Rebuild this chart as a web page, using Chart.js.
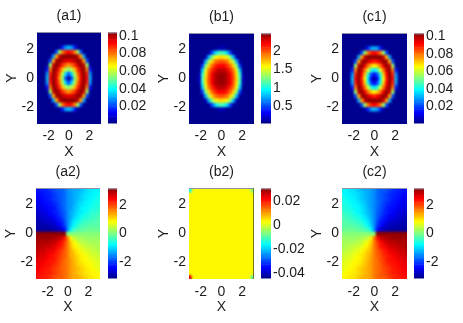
<!DOCTYPE html>
<html><head><meta charset="utf-8">
<script src="https://cdn.jsdelivr.net/npm/chart.js@4"></script>
<style>html,body{margin:0;padding:0;background:#fff;width:463px;height:323px;overflow:hidden}
canvas{position:absolute}</style></head><body>
<script>
const gridX=[-3,-2.7,-2.4,-2.1,-1.8,-1.5,-1.2,-0.9,-0.6,-0.3,0,0.3,0.6,0.9,1.2,1.5,1.8,2.1,2.4,2.7,3];
const gridY=[3,2.7,2.4,2.1,1.8,1.5,1.2,0.9,0.6,0.3,0,-0.3,-0.6,-0.9,-1.2,-1.5,-1.8,-2.1,-2.4,-2.7,-3];
const axisTicks=[-2,0,2];
// density (a1), units of 0.001
const a1Values=[
[0,0,0,0,0,0,0,0,0,0,0,0,0,0,0,0,0,0,0,0,0],
[0,0,0,0,0,0,0,0,0,0,0,0,0,0,0,0,0,0,0,0,0],
[0,0,0,0,0,0,0,0,0,0,0,0,0,0,0,0,0,0,0,0,0],
[0,0,0,0,0,0,0,3,16,28,32,28,16,3,0,0,0,0,0,0,0],
[0,0,0,0,0,1,20,55,78,88,92,88,78,55,20,1,0,0,0,0,0],
[0,0,0,0,1,28,74,97,103,103,103,103,103,97,74,28,1,0,0,0,0],
[0,0,0,0,20,74,100,103,99,95,93,95,99,103,100,74,20,0,0,0,0],
[0,0,0,3,55,97,103,97,87,80,76,80,87,97,103,97,55,3,0,0,0],
[0,0,0,16,78,103,99,87,72,58,52,58,72,87,99,103,78,16,0,0,0],
[0,0,0,28,88,103,95,80,58,35,20,35,58,80,95,103,88,28,0,0,0],
[0,0,0,32,92,103,93,76,52,20,0,20,52,76,93,103,92,32,0,0,0],
[0,0,0,28,88,103,95,80,58,35,20,35,58,80,95,103,88,28,0,0,0],
[0,0,0,16,78,103,99,87,72,58,52,58,72,87,99,103,78,16,0,0,0],
[0,0,0,3,55,97,103,97,87,80,76,80,87,97,103,97,55,3,0,0,0],
[0,0,0,0,20,74,100,103,99,95,93,95,99,103,100,74,20,0,0,0,0],
[0,0,0,0,1,28,74,97,103,103,103,103,103,97,74,28,1,0,0,0,0],
[0,0,0,0,0,1,20,55,78,88,92,88,78,55,20,1,0,0,0,0,0],
[0,0,0,0,0,0,0,3,16,28,32,28,16,3,0,0,0,0,0,0,0],
[0,0,0,0,0,0,0,0,0,0,0,0,0,0,0,0,0,0,0,0,0],
[0,0,0,0,0,0,0,0,0,0,0,0,0,0,0,0,0,0,0,0,0],
[0,0,0,0,0,0,0,0,0,0,0,0,0,0,0,0,0,0,0,0,0]];
// density (c1), units of 0.001
const c1Values=[
[0,0,0,0,0,0,0,0,0,0,0,0,0,0,0,0,0,0,0,0,0],
[0,0,0,0,0,0,0,0,0,0,0,0,0,0,0,0,0,0,0,0,0],
[0,0,0,0,0,0,0,0,0,0,0,0,0,0,0,0,0,0,0,0,0],
[0,0,0,0,0,0,0,3,16,28,32,28,16,3,0,0,0,0,0,0,0],
[0,0,0,0,0,1,20,55,78,88,92,88,78,55,20,1,0,0,0,0,0],
[0,0,0,0,1,28,74,97,103,103,103,103,103,97,74,28,1,0,0,0,0],
[0,0,0,0,20,74,100,103,97,91,88,91,97,103,100,74,20,0,0,0,0],
[0,0,0,3,55,97,103,93,80,70,66,70,80,93,103,97,55,3,0,0,0],
[0,0,0,16,78,103,97,80,62,43,36,43,62,80,97,103,78,16,0,0,0],
[0,0,0,28,88,103,91,70,43,20,12,20,43,70,91,103,88,28,0,0,0],
[0,0,0,32,92,103,88,66,36,12,0,12,36,66,88,103,92,32,0,0,0],
[0,0,0,28,88,103,91,70,43,20,12,20,43,70,91,103,88,28,0,0,0],
[0,0,0,16,78,103,97,80,62,43,36,43,62,80,97,103,78,16,0,0,0],
[0,0,0,3,55,97,103,93,80,70,66,70,80,93,103,97,55,3,0,0,0],
[0,0,0,0,20,74,100,103,97,91,88,91,97,103,100,74,20,0,0,0,0],
[0,0,0,0,1,28,74,97,103,103,103,103,103,97,74,28,1,0,0,0,0],
[0,0,0,0,0,1,20,55,78,88,92,88,78,55,20,1,0,0,0,0,0],
[0,0,0,0,0,0,0,3,16,28,32,28,16,3,0,0,0,0,0,0,0],
[0,0,0,0,0,0,0,0,0,0,0,0,0,0,0,0,0,0,0,0,0],
[0,0,0,0,0,0,0,0,0,0,0,0,0,0,0,0,0,0,0,0,0],
[0,0,0,0,0,0,0,0,0,0,0,0,0,0,0,0,0,0,0,0,0]];
// density (b1), units of 0.01
const b1Values=[
[0,0,0,0,0,0,0,0,0,0,0,0,0,0,0,0,0,0,0,0,0],
[0,0,0,0,0,0,0,0,0,0,0,0,0,0,0,0,0,0,0,0,0],
[0,0,0,0,0,0,0,0,0,0,0,0,0,0,0,0,0,0,0,0,0],
[0,0,0,0,0,0,0,1,5,14,18,14,5,1,0,0,0,0,0,0,0],
[0,0,0,0,0,0,8,45,80,103,110,103,80,45,8,0,0,0,0,0,0],
[0,0,0,0,0,14,72,122,150,160,165,160,150,122,72,14,0,0,0,0,0],
[0,0,0,0,8,72,135,165,186,196,198,196,186,165,135,72,8,0,0,0,0],
[0,0,0,1,45,122,165,192,208,217,220,217,208,192,165,122,45,1,0,0,0],
[0,0,0,5,80,150,186,208,222,232,235,232,222,208,186,150,80,5,0,0,0],
[0,0,0,14,103,160,196,217,232,241,243,241,232,217,196,160,103,14,0,0,0],
[0,0,0,18,110,165,198,220,235,243,245,243,235,220,198,165,110,18,0,0,0],
[0,0,0,14,103,160,196,217,232,241,243,241,232,217,196,160,103,14,0,0,0],
[0,0,0,5,80,150,186,208,222,232,235,232,222,208,186,150,80,5,0,0,0],
[0,0,0,1,45,122,165,192,208,217,220,217,208,192,165,122,45,1,0,0,0],
[0,0,0,0,8,72,135,165,186,196,198,196,186,165,135,72,8,0,0,0,0],
[0,0,0,0,0,14,72,122,150,160,165,160,150,122,72,14,0,0,0,0,0],
[0,0,0,0,0,0,8,45,80,103,110,103,80,45,8,0,0,0,0,0,0],
[0,0,0,0,0,0,0,1,5,14,18,14,5,1,0,0,0,0,0,0,0],
[0,0,0,0,0,0,0,0,0,0,0,0,0,0,0,0,0,0,0,0,0],
[0,0,0,0,0,0,0,0,0,0,0,0,0,0,0,0,0,0,0,0,0],
[0,0,0,0,0,0,0,0,0,0,0,0,0,0,0,0,0,0,0,0,0]];
// phase (a2), units of 0.01
const a2Values=[
[-235,-230,-224,-218,-211,-203,-195,-186,-177,-167,-157,-147,-137,-128,-119,-111,-103,-96,-90,-84,-79],
[-241,-235,-230,-223,-216,-208,-199,-189,-179,-168,-157,-146,-135,-125,-115,-106,-98,-91,-84,-79,-73],
[-247,-241,-235,-229,-221,-213,-203,-193,-181,-169,-157,-145,-133,-121,-111,-101,-93,-85,-79,-73,-67],
[-253,-248,-242,-235,-228,-219,-209,-197,-185,-171,-157,-143,-129,-117,-105,-95,-86,-79,-72,-66,-61],
[-260,-255,-250,-243,-235,-226,-216,-203,-189,-173,-157,-141,-125,-111,-98,-88,-79,-71,-64,-59,-54],
[-268,-263,-258,-252,-245,-235,-224,-211,-195,-177,-157,-137,-119,-103,-90,-79,-69,-62,-56,-51,-46],
[-276,-272,-268,-262,-255,-247,-235,-221,-203,-181,-157,-133,-111,-93,-79,-67,-59,-52,-46,-42,-38],
[-285,-282,-278,-274,-268,-260,-250,-235,-216,-189,-157,-125,-98,-79,-64,-54,-46,-40,-36,-32,-29],
[-294,-292,-290,-286,-282,-276,-268,-255,-235,-203,-157,-111,-79,-59,-46,-38,-32,-28,-24,-22,-20],
[-304,-303,-302,-300,-297,-294,-290,-282,-268,-235,-157,-79,-46,-32,-24,-20,-17,-14,-12,-11,-10],
[314,314,314,314,314,314,314,314,314,314,0,0,0,0,0,0,0,0,0,0,0],
[304,303,302,300,297,294,290,282,268,235,157,79,46,32,24,20,17,14,12,11,10],
[294,292,290,286,282,276,268,255,235,203,157,111,79,59,46,38,32,28,24,22,20],
[285,282,278,274,268,260,250,235,216,189,157,125,98,79,64,54,46,40,36,32,29],
[276,272,268,262,255,247,235,221,203,181,157,133,111,93,79,67,59,52,46,42,38],
[268,263,258,252,245,235,224,211,195,177,157,137,119,103,90,79,69,62,56,51,46],
[260,255,250,243,235,226,216,203,189,173,157,141,125,111,98,88,79,71,64,59,54],
[253,248,242,235,228,219,209,197,185,171,157,143,129,117,105,95,86,79,72,66,61],
[247,241,235,229,221,213,203,193,181,169,157,145,133,121,111,101,93,85,79,73,67],
[241,235,230,223,216,208,199,189,179,168,157,146,135,125,115,106,98,91,84,79,73],
[235,230,224,218,211,203,195,186,177,167,157,147,137,128,119,111,103,96,90,84,79]];
// phase (c2), units of 0.01
const c2Values=[
[-79,-84,-90,-96,-103,-111,-119,-128,-137,-147,-157,-167,-177,-186,-195,-203,-211,-218,-224,-230,-235],
[-73,-79,-84,-91,-98,-106,-115,-125,-135,-146,-157,-168,-179,-189,-199,-208,-216,-223,-230,-235,-241],
[-67,-73,-79,-85,-93,-101,-111,-121,-133,-145,-157,-169,-181,-193,-203,-213,-221,-229,-235,-241,-247],
[-61,-66,-72,-79,-86,-95,-105,-117,-129,-143,-157,-171,-185,-197,-209,-219,-228,-235,-242,-248,-253],
[-54,-59,-64,-71,-79,-88,-98,-111,-125,-141,-157,-173,-189,-203,-216,-226,-235,-243,-250,-255,-260],
[-46,-51,-56,-62,-69,-79,-90,-103,-119,-137,-157,-177,-195,-211,-224,-235,-245,-252,-258,-263,-268],
[-38,-42,-46,-52,-59,-67,-79,-93,-111,-133,-157,-181,-203,-221,-235,-247,-255,-262,-268,-272,-276],
[-29,-32,-36,-40,-46,-54,-64,-79,-98,-125,-157,-189,-216,-235,-250,-260,-268,-274,-278,-282,-285],
[-20,-22,-24,-28,-32,-38,-46,-59,-79,-111,-157,-203,-235,-255,-268,-276,-282,-286,-290,-292,-294],
[-10,-11,-12,-14,-17,-20,-24,-32,-46,-79,-157,-235,-268,-282,-290,-294,-297,-300,-302,-303,-304],
[0,0,0,0,0,0,0,0,0,0,0,314,314,314,314,314,314,314,314,314,314],
[10,11,12,14,17,20,24,32,46,79,157,235,268,282,290,294,297,300,302,303,304],
[20,22,24,28,32,38,46,59,79,111,157,203,235,255,268,276,282,286,290,292,294],
[29,32,36,40,46,54,64,79,98,125,157,189,216,235,250,260,268,274,278,282,285],
[38,42,46,52,59,67,79,93,111,133,157,181,203,221,235,247,255,262,268,272,276],
[46,51,56,62,69,79,90,103,119,137,157,177,195,211,224,235,245,252,258,263,268],
[54,59,64,71,79,88,98,111,125,141,157,173,189,203,216,226,235,243,250,255,260],
[61,66,72,79,86,95,105,117,129,143,157,171,185,197,209,219,228,235,242,248,253],
[67,73,79,85,93,101,111,121,133,145,157,169,181,193,203,213,221,229,235,241,247],
[73,79,84,91,98,106,115,125,135,146,157,168,179,189,199,208,216,223,230,235,241],
[79,84,90,96,103,111,119,128,137,147,157,167,177,186,195,203,211,218,224,230,235]];
// phase (b2), units of 0.001
const b2Values=[
[-16,3,3,3,3,3,3,3,3,3,3,3,3,3,3,3,3,3,3,3,-8],
[3,3,3,3,3,3,3,3,3,3,3,3,3,3,3,3,3,3,3,3,3],
[3,3,3,3,3,3,3,3,3,3,3,3,3,3,3,3,3,3,3,3,3],
[3,3,3,3,3,3,3,3,3,3,3,3,3,3,3,3,3,3,3,3,3],
[3,3,3,3,3,3,3,3,3,3,3,3,3,3,3,3,3,3,3,3,3],
[3,3,3,3,3,3,3,3,3,3,3,3,3,3,3,3,3,3,3,3,3],
[3,3,3,3,3,3,3,3,3,3,3,3,3,3,3,3,3,3,3,3,3],
[3,3,3,3,3,3,3,3,3,3,3,3,3,3,3,3,3,3,3,3,3],
[3,3,3,3,3,3,3,3,3,3,3,3,3,3,3,3,3,3,3,3,3],
[3,3,3,3,3,3,3,3,3,3,3,3,3,3,3,3,3,3,3,3,3],
[3,3,3,3,3,3,3,3,3,3,3,3,3,3,3,3,3,3,3,3,3],
[3,3,3,3,3,3,3,3,3,3,3,3,3,3,3,3,3,3,3,3,3],
[3,3,3,3,3,3,3,3,3,3,3,3,3,3,3,3,3,3,3,3,3],
[3,3,3,3,3,3,3,3,3,3,3,3,3,3,3,3,3,3,3,3,3],
[3,3,3,3,3,3,3,3,3,3,3,3,3,3,3,3,3,3,3,3,3],
[3,3,3,3,3,3,3,3,3,3,3,3,3,3,3,3,3,3,3,3,3],
[3,3,3,3,3,3,3,3,3,3,3,3,3,3,3,3,3,3,3,3,3],
[3,3,3,3,3,3,3,3,3,3,3,3,3,3,3,3,3,3,3,3,3],
[3,3,3,3,3,3,3,3,3,3,3,3,3,3,3,3,3,3,3,3,3],
[3,3,3,3,3,3,3,3,3,3,3,3,3,3,3,3,3,3,3,3,3],
[24,3,3,3,3,3,3,3,3,3,3,3,3,3,3,3,3,3,3,3,-10]];
const a1Ticks=[0.02,0.04,0.06,0.08,0.1];
const b1Ticks=[0.5,1,1.5,2];
const c1Ticks=[0.02,0.04,0.06,0.08,0.1];
const a2Ticks=[-2,0,2];
const b2Ticks=[-0.04,-0.02,0,0.02];
const c2Ticks=[-2,0,2];

const INK='#1c1c1c', FONT='"Liberation Sans", Arial, sans-serif', LIM=3.14, HALF=0.15;
Chart.defaults.font.family=FONT;
Chart.defaults.font.size=14;
Chart.defaults.color=INK;

function jet(t){
  const i=Math.max(0,Math.min(63,Math.floor(t*64)));
  const u=(i+1)/65, c=v=>Math.round(255*Math.max(0,Math.min(1,1.5-Math.abs(4*u-v))));
  return 'rgb('+c(3)+','+c(2)+','+c(1)+')';
}
const frame={id:'frame',afterDatasetsDraw(ch,_,o){
  const g=ch.ctx,a=ch.chartArea;
  g.save();
  if(o.smooth){
    const w=a.right-a.left,h=a.bottom-a.top;
    g.beginPath();g.rect(a.left,a.top,w,h);g.clip();
    g.filter='blur('+o.smooth+'px)';
    g.drawImage(ch.canvas,a.left,a.top,w,h,a.left,a.top,w,h);
    g.filter='none';
  }
  g.lineWidth=1;g.strokeStyle='#8f8fa8';
  g.beginPath();g.moveTo(a.left,a.top+0.5);g.lineTo(a.right,a.top+0.5);g.stroke();
  if(o.rightEdge){g.strokeStyle=o.rightEdge;g.beginPath();g.moveTo(a.right-0.5,a.top);g.lineTo(a.right-0.5,a.bottom);g.stroke();}
  g.restore();
}};
function addCanvas(l,t,w,h){
  const c=document.createElement('canvas');
  c.width=w;c.height=h;c.style.left=l+'px';c.style.top=t+'px';c.style.width=w+'px';c.style.height=h+'px';
  document.body.appendChild(c);return c;
}
function panel(p){
  const ml=36,mt=32,mr=8,mb=38;
  const cv=addCanvas(p.L-ml,p.T-mt,p.W+ml+mr,p.H+mt+mb);
  const datasets=p.rows.map((row,j)=>({
    data:row.map((_,i)=>({x:gridX[i],y:[gridY[j]-HALF,gridY[j]+HALF]})),
    backgroundColor:row.map(v=>jet((v-p.lo)/(p.hi-p.lo))),
    borderWidth:0,grouped:false,barPercentage:1,categoryPercentage:1
  }));
  new Chart(cv,{type:'bar',data:{datasets},plugins:[frame],options:{
    responsive:false,animation:false,events:[],
    layout:{padding:{right:mr}},
    plugins:{legend:{display:false},tooltip:{enabled:false},frame:{rightEdge:p.edge||null,smooth:p.blur===undefined?1.2:p.blur},
      title:{display:true,text:p.title,color:INK,fullSize:false,font:{size:14,weight:'normal',lineHeight:1.2},padding:{top:8,bottom:7.2}}},
    scales:{
      x:{type:'linear',offset:false,min:-LIM,max:LIM,
        afterBuildTicks:s=>{s.ticks=axisTicks.map(v=>({value:v}));},
        afterFit:s=>{s.height=mb;},
        grid:{display:false,drawTicks:false},border:{display:false},
        ticks:{padding:p.xp,maxRotation:0,autoSkip:false,callback:v=>String(v),color:INK},
        title:{display:true,text:'X',color:INK,font:{size:14,lineHeight:1.2},padding:{top:0,bottom:1}}},
      y:{type:'linear',min:-LIM,max:LIM,
        afterBuildTicks:s=>{s.ticks=axisTicks.map(v=>({value:v}));},
        afterFit:s=>{s.width=ml;},
        grid:{display:false,drawTicks:false},border:{display:false},
        ticks:{padding:3,autoSkip:false,callback:v=>String(v),color:INK},
        title:{display:true,text:'Y',color:INK,font:{size:14,lineHeight:1.2},padding:{top:3,bottom:0}}}
    }}});
}
function colorbar(b){
  const pad=10,labelW=42;
  const cv=addCanvas(b.L,b.T-pad,b.W+labelW,b.H+2*pad);
  const datasets=[];
  for(let i=0;i<64;i++){
    const lo=b.min+(b.max-b.min)*i/64, hi=b.min+(b.max-b.min)*(i+1)/64;
    datasets.push({data:[[lo,hi]],backgroundColor:jet((i+0.5)/64),borderWidth:0,grouped:false,barPercentage:1,categoryPercentage:1});
  }
  new Chart(cv,{type:'bar',data:{labels:['c'],datasets},plugins:[frame],options:{
    responsive:false,animation:false,events:[],
    layout:{padding:{top:pad,bottom:pad}},
    plugins:{legend:{display:false},tooltip:{enabled:false},title:{display:false}},
    scales:{
      x:{display:false},
      y:{position:'right',type:'linear',min:b.min,max:b.max,
        afterBuildTicks:s=>{s.ticks=b.ticks.map(v=>({value:v}));},
        afterFit:s=>{s.width=labelW;},
        grid:{display:false,drawTicks:false},border:{display:false},
        ticks:{padding:2,autoSkip:false,callback:v=>String(v),color:INK}}
    }}});
}
panel({title:'(a1)',rows:a1Values,lo:0,hi:104,L:37,T:32,W:64,H:92,xp:4});
panel({title:'(b1)',rows:b1Values,lo:3,hi:247,L:189,T:33,W:65,H:91,xp:4});
panel({title:'(c1)',rows:c1Values,lo:0,hi:104,L:342,T:33,W:65,H:91,xp:4});
panel({title:'(a2)',rows:a2Values,lo:-314,hi:314,L:36,T:188,W:64,H:91,xp:5,blur:1});
panel({title:'(b2)',rows:b2Values,lo:-44,hi:30,L:189,T:188,W:65,H:91,xp:5,blur:0.8,edge:'#6f7a10'});
panel({title:'(c2)',rows:c2Values,lo:-314,hi:314,L:342,T:188,W:65,H:91,xp:5,blur:1});
colorbar({L:108,T:32,W:9,H:92,min:0.0006,max:0.1037,ticks:a1Ticks});
colorbar({L:261,T:33,W:10,H:91,min:0.036,max:2.47,ticks:b1Ticks});
colorbar({L:414,T:33,W:10,H:91,min:0.0006,max:0.1037,ticks:c1Ticks});
colorbar({L:108,T:188,W:9,H:91,min:-3.14,max:3.14,ticks:a2Ticks});
colorbar({L:261,T:188,W:10,H:91,min:-0.0441,max:0.0304,ticks:b2Ticks});
colorbar({L:414,T:188,W:10,H:91,min:-3.14,max:3.14,ticks:c2Ticks});
</script></body></html>
